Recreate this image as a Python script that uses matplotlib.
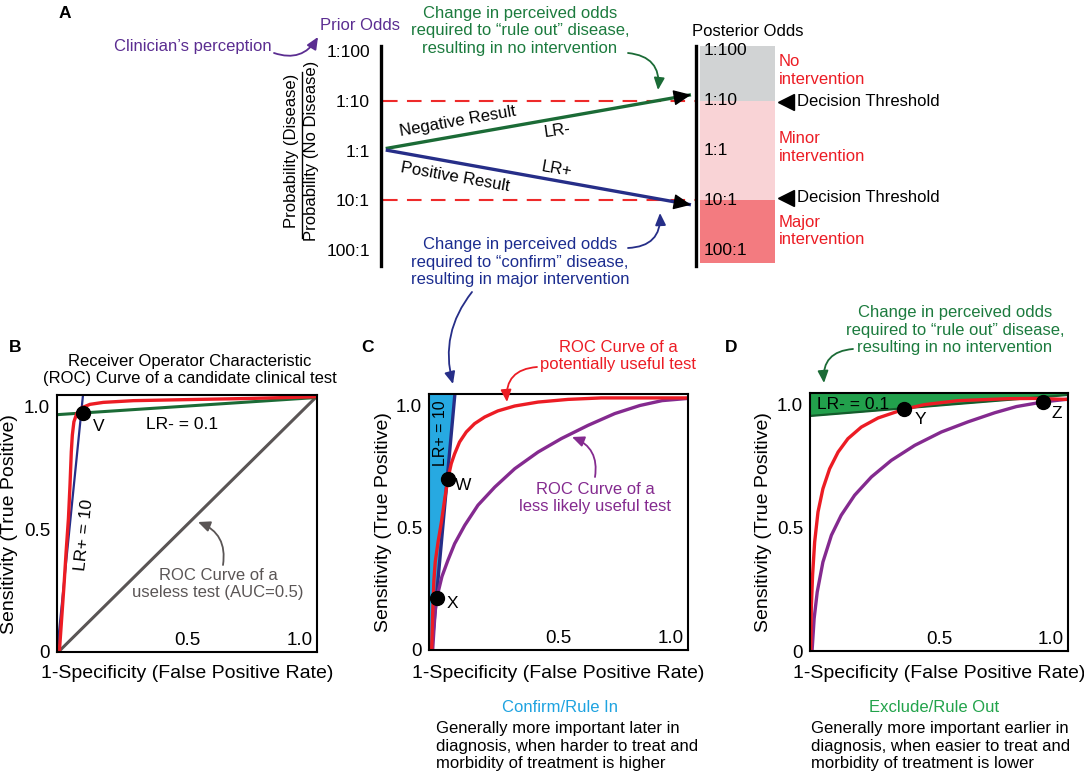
import numpy as np
import matplotlib.pyplot as plt
from matplotlib.patches import Rectangle

plt.rcParams['font.family'] = ['Liberation Sans', 'DejaVu Sans']

W, H = 1084, 777

GREEN_DK = '#1b6b36'
GREEN_TXT = '#1c7b3e'
GREEN_FILL = '#22a04c'
NAVY = '#262e88'
RED = '#ec1c24'
PURPLE = '#842a8f'
PURPLE_TXT = '#5b2d91'
CYAN = '#27a9e1'
GRAY = '#5a5555'

# ---------------- data ----------------
# panel A: odds on a log10 scale (negative = odds against disease)
odds_labels = ['1:100', '1:10', '1:1', '10:1', '100:1']
log_odds = [-2, -1, 0, 1, 2]
thresholds = [-1, 1]
zone_bounds = [-2.1, -1, 1, 2.26]
zone_colors = ['#d1d3d4', '#f9d3d6', '#f37b80']
zone_names = ['No\nintervention', 'Minor\nintervention', 'Major\nintervention']
prior_log_odds = -0.04
neg_log_odds = -1.12
pos_log_odds = 1.09

# panel B
b_red_x = [0.009, 0.018, 0.027, 0.035, 0.044, 0.05, 0.055, 0.059, 0.065, 0.076,
           0.095, 0.127, 0.178, 0.294, 0.486, 0.742, 1.0]
b_red_y = [0.0, 0.137, 0.272, 0.407, 0.543, 0.679, 0.814, 0.882, 0.936, 0.97,
           0.993, 1.007, 1.015, 1.022, 1.026, 1.031, 1.038]
b_lrpos_x = [0.0, 0.10]
b_lrpos_y = [0.0, 1.045]
b_lrneg_x = [0.0, 1.0]
b_lrneg_y = [0.965, 1.035]
b_chance_x = [0.005, 1.0]
b_chance_y = [0.0, 1.04]
b_point = (0.10, 0.97)

# panel C
c_red_x = [0.0103, 0.0142, 0.019, 0.024, 0.035, 0.048, 0.061, 0.073, 0.086, 0.099,
           0.118, 0.144, 0.176, 0.215, 0.266, 0.331, 0.421, 0.537, 0.665, 1.0]
c_red_y = [0.0, 0.15, 0.286, 0.359, 0.441, 0.523, 0.618, 0.699, 0.761, 0.801,
           0.849, 0.89, 0.924, 0.951, 0.976, 0.996, 1.012, 1.023, 1.029, 1.029]
c_pur_x = [0.014, 0.0232, 0.0296, 0.05, 0.073, 0.099, 0.138, 0.189, 0.254, 0.331,
           0.421, 0.511, 0.614, 0.717, 0.814, 0.90, 1.0]
c_pur_y = [0.0, 0.15, 0.211, 0.30, 0.366, 0.434, 0.509, 0.591, 0.665, 0.74,
           0.808, 0.863, 0.917, 0.965, 0.998, 1.018, 1.027]
c_lrpos_x = [0.01, 0.10]
c_lrpos_y = [0.0, 1.045]
c_point_w = (0.075, 0.70)
c_point_x = (0.0296, 0.211)

# panel D
d_red_x = [0.003, 0.005, 0.01, 0.018, 0.031, 0.05, 0.076, 0.109, 0.147, 0.199,
           0.264, 0.364, 0.444, 0.574, 0.767, 0.866, 1.0]
d_red_y = [0.0, 0.171, 0.307, 0.441, 0.563, 0.657, 0.738, 0.806, 0.86, 0.907,
           0.944, 0.979, 0.998, 1.014, 1.022, 1.023, 1.019]
d_pur_x = [0.008, 0.016, 0.028, 0.05, 0.083, 0.121, 0.173, 0.238, 0.315, 0.406,
           0.509, 0.612, 0.716, 0.80, 0.904, 1.0]
d_pur_y = [0.0, 0.131, 0.239, 0.36, 0.469, 0.55, 0.631, 0.705, 0.772, 0.833,
           0.887, 0.928, 0.965, 0.99, 1.009, 1.02]
d_lrneg_x = [0.0, 1.0]
d_lrneg_y = [0.952, 1.037]
d_point_y = (0.364, 0.979)
d_point_z = (0.904, 1.009)

y_ticks = [0, 0.5, 1.0]
y_tick_labels = ['0', '0.5', '1.0']
x_tick_labels = ['0.5', '1.0']

fig = plt.figure(figsize=(W / 100, H / 100), dpi=100)


def px_axes(left, top, right, bottom):
    return fig.add_axes([left / W, (H - bottom) / H, (right - left) / W, (bottom - top) / H])


# ---------------- panel A ----------------
axA = px_axes(381, 46, 696, 266)
axA.set_xlim(0, 1)
axA.set_ylim(2.32, -2.1)
for s in ['top', 'bottom']:
    axA.spines[s].set_visible(False)
for s in ['left', 'right']:
    axA.spines[s].set_linewidth(2.4)
axA.set_xticks([])
axA.set_yticks(log_odds, odds_labels, fontsize=12.5)
axA.tick_params(axis='y', length=0, pad=8)
axA.patch.set_visible(False)

for i in range(3):
    axA.add_patch(Rectangle((1.013, zone_bounds[i]), 0.238, zone_bounds[i + 1] - zone_bounds[i],
                            facecolor=zone_colors[i], edgecolor='none', clip_on=False, zorder=0))
for lo, lab in zip(log_odds, odds_labels):
    axA.text(1.025, lo, lab, fontsize=12.5, ha='left', va='center', clip_on=False)

for t in thresholds:
    axA.plot([0.005, 1.0], [t, t], color='#ee2a2a', lw=1.5, dashes=(7, 4.5))


def head(x0, y0, x1, y1):
    k = 0.95
    axA.annotate('', xy=(x1, y1), xytext=(x0 + k * (x1 - x0), y0 + k * (y1 - y0)),
                 arrowprops=dict(arrowstyle='-|>,head_length=0.6,head_width=0.27',
                                 color='black', lw=1, shrinkA=0, shrinkB=0, mutation_scale=18))


axA.plot([0.015, 0.984], [prior_log_odds, neg_log_odds], color=GREEN_DK, lw=2.4,
         solid_capstyle='butt')
axA.plot([0.015, 0.984], [prior_log_odds + 0.03, pos_log_odds], color=NAVY, lw=2.4,
         solid_capstyle='butt')
head(0.015, prior_log_odds, 0.984, neg_log_odds)
head(0.015, prior_log_odds + 0.03, 0.984, pos_log_odds)


# ---------------- ROC panels ----------------
def roc_axes(left, top, right, bottom):
    ax = px_axes(left, top, right, bottom)
    ax.set_xlim(0, 1)
    ax.set_ylim(0, 1.045)
    ax.set_xticks([])
    ax.set_yticks(y_ticks, y_tick_labels, fontsize=13.5)
    ax.tick_params(axis='y', length=0, pad=5)
    for s in ax.spines.values():
        s.set_linewidth(1.5)
    ax.text(0.5, 0.012, x_tick_labels[0], transform=ax.transAxes, fontsize=13.5,
            ha='center', va='bottom')
    ax.text(0.985, 0.012, x_tick_labels[1], transform=ax.transAxes, fontsize=13.5,
            ha='right', va='bottom')
    return ax


dot = dict(marker='o', ms=10, color='black', ls='none', zorder=6, clip_on=False)
curve = dict(lw=2.4, solid_joinstyle='round', solid_capstyle='round')

axB = roc_axes(57, 395, 317, 652)
axB.plot(b_chance_x, b_chance_y, color=GRAY, lw=2.2)
axB.plot(b_lrneg_x, b_lrneg_y, color=GREEN_DK, lw=2.2)
axB.plot(b_lrpos_x, b_lrpos_y, color=NAVY, lw=1.6)
axB.plot(b_red_x, b_red_y, color=RED, **curve)
axB.plot(*b_point, **dot)
axB.text(0.16, 0.916, 'V', fontsize=12.5, ha='center', va='center')
axB.text(0.48, 0.926, 'LR- = 0.1', fontsize=12.5, ha='center', va='center')
axB.text(0.105, 0.476, 'LR+ = 10', fontsize=12.5, ha='center', va='center', rotation=84)

axC = roc_axes(429, 394, 688, 650)
axC.fill_betweenx(c_lrpos_y, 0, c_lrpos_x, color=CYAN, lw=0)
axC.plot(c_lrpos_x, c_lrpos_y, color=NAVY, lw=2.4)
axC.plot(c_pur_x, c_pur_y, color=PURPLE, **curve)
axC.plot(c_red_x, c_red_y, color=RED, **curve)
axC.plot(*c_point_w, **dot)
axC.plot(*c_point_x, **dot)
axC.text(0.13, 0.67, 'W', fontsize=12.5, ha='center', va='center')
axC.text(0.09, 0.19, 'X', fontsize=12.5, ha='center', va='center')
axC.text(0.046, 0.885, 'LR+ = 10', fontsize=11.5, ha='center', va='center', rotation=90)

axD = roc_axes(810, 393, 1068, 651)
axD.fill_between(d_lrneg_x, d_lrneg_y, 1.045, color=GREEN_FILL, lw=0)
axD.plot(d_lrneg_x, d_lrneg_y, color='#145c2c', lw=1.6)
axD.plot(d_pur_x, d_pur_y, color=PURPLE, **curve)
axD.plot(d_red_x, d_red_y, color=RED, **curve)
axD.plot(*d_point_y, **dot)
axD.plot(*d_point_z, **dot)
axD.text(0.426, 0.936, 'Y', fontsize=12.5, ha='center', va='center')
axD.text(0.955, 0.962, 'Z', fontsize=12.5, ha='center', va='center')
axD.text(0.165, 1.0, 'LR- = 0.1', fontsize=12.5, ha='center', va='center')

# ---------------- text & arrows overlay (pixel coords) ----------------
ax0 = fig.add_axes([0, 0, 1, 1], zorder=10)
ax0.set_xlim(0, W)
ax0.set_ylim(H, 0)
ax0.axis('off')


def txt(x, y, s, color='black', size=12, ha='center', **kw):
    ax0.text(x, y, s, color=color, fontsize=size, ha=ha, va='center', linespacing=1.2, **kw)


def curl(x0, y0, x1, y1, color, rad):
    ax0.annotate('', xy=(x1, y1), xytext=(x0, y0),
                 arrowprops=dict(arrowstyle='-|>,head_length=0.45,head_width=0.2',
                                 color=color, lw=1.3, shrinkA=0, shrinkB=0,
                                 connectionstyle=f'arc3,rad={rad}', mutation_scale=16))


for x, y, s in [(65, 13, 'A'), (15, 347, 'B'), (367, 347, 'C'), (731, 348, 'D')]:
    txt(x, y, s, size=12.5, weight='bold')

# panel A texts
txt(360, 26, 'Prior Odds', PURPLE_TXT)
txt(272, 47, 'Clinician\u2019s perception', PURPLE_TXT, ha='right')
curl(274, 53, 318, 37, PURPLE_TXT, 0.4)
txt(291.5, 151, 'Probability (Disease)', rotation=90)
txt(311.5, 151, 'Probability (No Disease)', rotation=90)
ax0.plot([301.5, 301.5], [72, 238], color='black', lw=1)

txt(520, 31, 'Change in perceived odds\nrequired to \u201crule out\u201d disease,\nresulting in no intervention', GREEN_TXT)
curl(628, 53, 658, 90, GREEN_DK, -0.5)
txt(520, 262, 'Change in perceived odds\nrequired to \u201cconfirm\u201d disease,\nresulting in major intervention', '#1b2c8f')
curl(628, 248, 660, 213, NAVY, 0.5)

txt(458, 121, 'Negative Result', rotation=10)
txt(455, 177, 'Positive Result', rotation=-10)
txt(557, 131, 'LR-', rotation=8)
txt(557, 169, 'LR+', rotation=-10)

txt(748, 31, 'Posterior Odds')
for yc, name in zip([70.7, 147.5, 230.7], zone_names):
    txt(779, yc, name, RED, ha='left')
for yt in [101.7, 197.7]:
    ax0.plot(786, yt, marker='<', ms=11, color='black')
    txt(797, yt, 'Decision Threshold', ha='left')

# panel B-D texts
txt(190, 370, 'Receiver Operator Characteristic\n(ROC) Curve of a candidate clinical test')
txt(218, 584, 'ROC Curve of a\nuseless test (AUC=0.5)', GRAY)
curl(223, 565, 198, 522, GRAY, 0.4)

curl(472, 292, 453, 384, NAVY, 0.25)
txt(618, 356, 'ROC Curve of a\npotentially useful test', RED)
curl(537, 367, 507, 402, RED, 0.5)
txt(595, 498, 'ROC Curve of a\nless likely useful test', PURPLE)
curl(595, 477, 572, 437, PURPLE, 0.4)

txt(955, 330, 'Change in perceived odds\nrequired to \u201crule out\u201d disease,\nresulting in no intervention', GREEN_TXT)
curl(853, 349, 824, 383, GREEN_DK, 0.5)

for xc, yc in [(10, 524), (383, 522), (763, 522)]:
    txt(xc, yc, 'Sensitivity (True Positive)', size=14, rotation=90)
for xc in [187, 558, 939]:
    txt(xc, 673, '1-Specificity (False Positive Rate)', size=14)

txt(560, 707, 'Confirm/Rule In', '#1fa3e0')
txt(436, 746, 'Generally more important later in\ndiagnosis, when harder to treat and\nmorbidity of treatment is higher', ha='left')
txt(934, 707, 'Exclude/Rule Out', '#22a34b')
txt(811, 746, 'Generally more important earlier in\ndiagnosis, when easier to treat and\nmorbidity of treatment is lower', ha='left')

fig.savefig('out.png', dpi=100)
